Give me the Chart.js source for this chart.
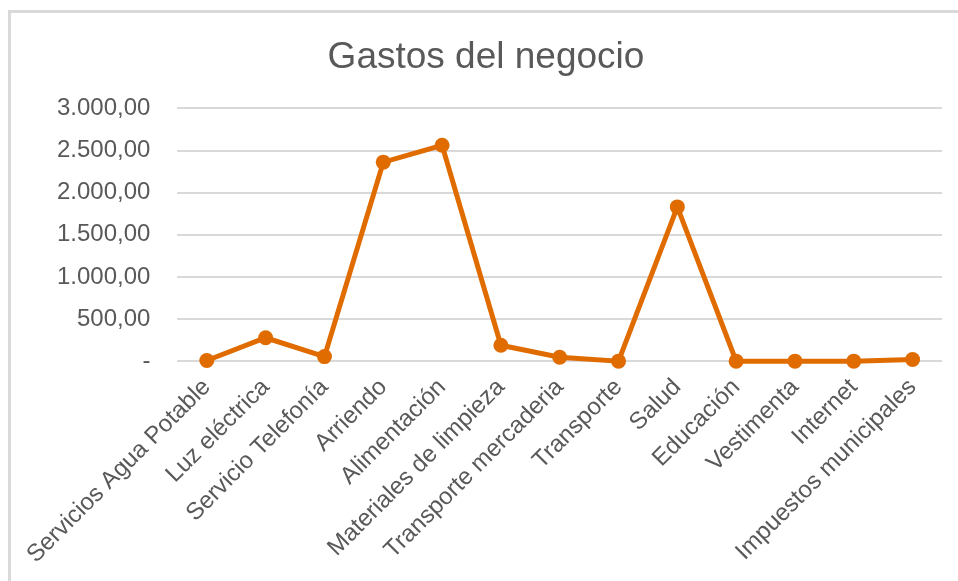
<!DOCTYPE html>
<html>
<head>
<meta charset="utf-8">
<script src="https://cdn.jsdelivr.net/npm/chart.js@4/dist/chart.umd.min.js"></script>
<style>
  html, body { margin: 0; padding: 0; background: #fff; overflow: hidden; }
  .frame {
    position: absolute; left: 8px; top: 10px;
    width: 970px; height: 580px;
    border: 3px solid #d9d9d9;
    background: #fff;
  }
  .frame canvas { position: absolute; left: 0; top: 0; }
</style>
</head>
<body>
<div class="frame">
  <canvas id="chart" width="960" height="560"></canvas>
</div>
<script>
const categories = [
  'Servicios Agua Potable', 'Luz eléctrica', 'Servicio Telefonía', 'Arriendo',
  'Alimentación', 'Materiales de limpieza', 'Transporte mercaderia', 'Transporte',
  'Salud', 'Educación', 'Vestimenta', 'Internet', 'Impuestos municipales'
];
const gastos = [8, 278, 54, 2362, 2562, 189, 47, 0, 1831, 0, 0, 0, 20];
const yTicks = [0, 500, 1000, 1500, 2000, 2500, 3000];

const textColor = '#595959';
const fontFamily = '"Liberation Sans", Arial, sans-serif';

// 3000 -> "3.000,00", 0 -> "-"
const formatValue = (v) => {
  if (v === 0) return '-';
  const parts = v.toFixed(2).split('.');
  const intPart = parts[0].replace(/\B(?=(\d{3})+(?!\d))/g, '.');
  return intPart + ',' + parts[1];
};

const ctx = document.getElementById('chart').getContext('2d');
new Chart(ctx, {
  type: 'line',
  data: {
    labels: categories,
    datasets: [{
      label: 'Gastos',
      data: gastos,
      borderColor: '#E06C00',
      backgroundColor: '#E06C00',
      borderWidth: 5,
      pointRadius: 7.5,
      pointBorderWidth: 0,
      pointBackgroundColor: '#E06C00',
      tension: 0,
      clip: false
    }]
  },
  options: {
    responsive: false,
    animation: false,
    layout: { padding: { left: 19, right: 29, top: 18, bottom: 0 } },
    plugins: {
      legend: { display: false },
      tooltip: { enabled: false },
      title: {
        display: true,
        text: 'Gastos del negocio',
        color: textColor,
        font: { family: fontFamily, size: 37, weight: 'normal' },
        padding: { top: 5, bottom: 28 }
      }
    },
    scales: {
      x: {
        offset: true,
        grid: { display: false },
        border: { display: false },
        ticks: {
          color: textColor,
          font: { family: fontFamily, size: 24 },
          maxRotation: 45,
          minRotation: 45,
          autoSkip: false,
          padding: 4
        }
      },
      y: {
        min: 0,
        max: 3000,
        afterBuildTicks: (axis) => { axis.ticks = yTicks.map(v => ({ value: v })); },
        grid: { color: '#d9d9d9', lineWidth: 2, drawTicks: false },
        border: { display: false },
        ticks: {
          color: textColor,
          font: { family: fontFamily, size: 24 },
          padding: 27,
          callback: (value) => formatValue(value)
        }
      }
    }
  }
});
</script>
</body>
</html>
